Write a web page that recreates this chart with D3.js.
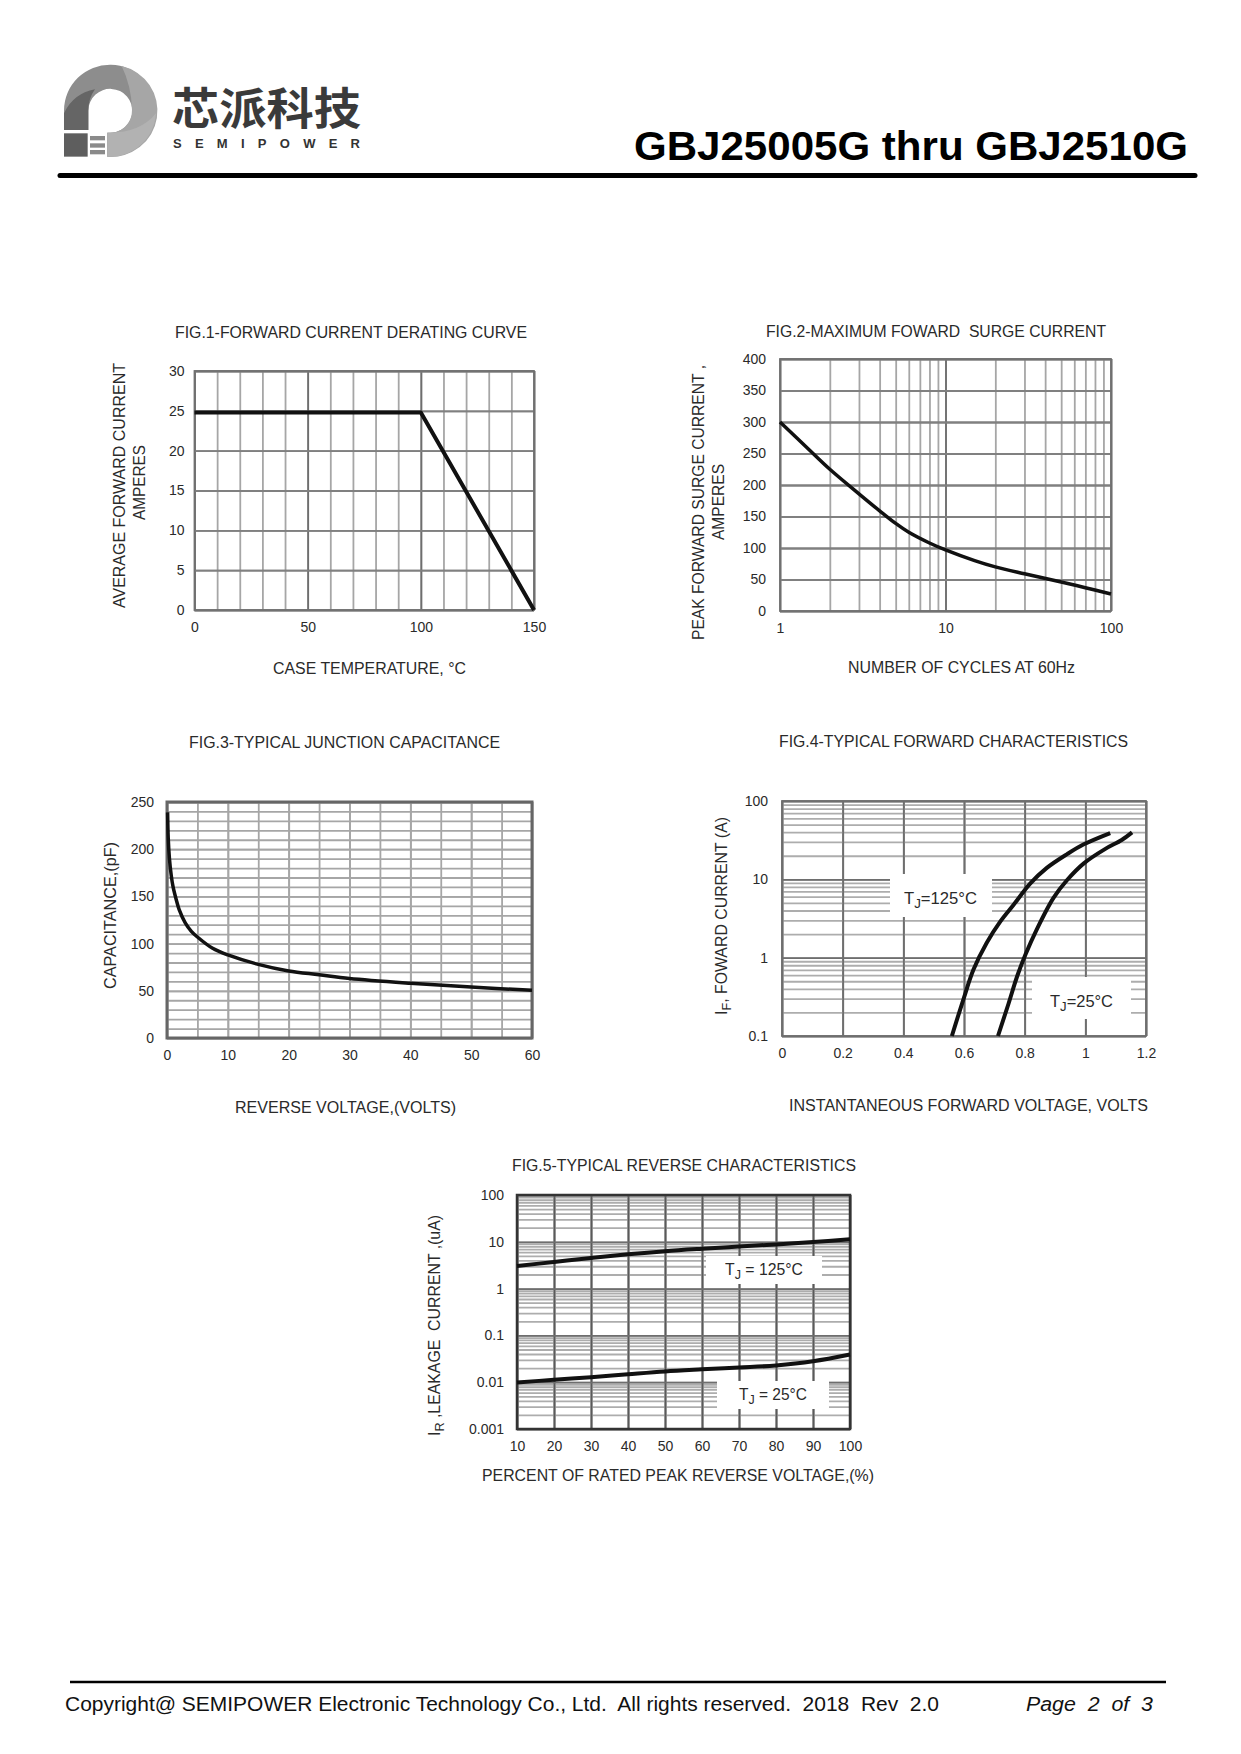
<!DOCTYPE html>
<html>
<head>
<meta charset="utf-8">
<title>GBJ25005G thru GBJ2510G</title>
<script src="https://cdnjs.cloudflare.com/ajax/libs/d3/7.8.5/d3.min.js"></script>
<style>
  html, body { margin: 0; padding: 0; background: #fff; }
  svg { display: block; }
  text { font-family: "Liberation Sans", Arial, sans-serif; fill: #2a2a2a; }
</style>
</head>
<body>
<svg id="page" width="1241" height="1754"></svg>
<script>
// Fig.1 derating curve
const fig1Temp = [0, 100, 150];
const fig1Current = [24.8, 24.8, 0];
const fig1XTicks = [0, 10, 20, 30, 40, 50, 60, 70, 80, 90, 100, 110, 120, 130, 140, 150];
const fig1XLabels = [0, 50, 100, 150];
const fig1YTicks = [0, 5, 10, 15, 20, 25, 30];

// Fig.2 surge current
const fig2Cycles = [1, 1.5, 2, 3, 4, 5, 6, 8, 10, 15, 20, 30, 50, 70, 100];
const fig2Surge = [300, 256, 225, 186, 159, 139, 125, 108, 97, 80, 70, 59, 46, 37, 27];
const fig2XLabels = [1, 10, 100];
const fig2YTicks = [0, 50, 100, 150, 200, 250, 300, 350, 400];

// Fig.3 junction capacitance
const fig3Volts = [0.1, 0.2, 0.4, 0.7, 1, 1.5, 2, 3, 4, 5, 7.5, 10, 15, 20, 25, 30, 40, 50, 60];
const fig3Cap = [239, 212, 190, 172, 160, 147, 136, 122, 113, 107, 95, 88, 78, 71, 67, 63, 58, 54, 50.5];
const fig3XTicks = [0, 5, 10, 15, 20, 25, 30, 35, 40, 45, 50, 55, 60];
const fig3XLabels = [0, 10, 20, 30, 40, 50, 60];
const fig3YTicks = [0, 10, 20, 30, 40, 50, 60, 70, 80, 90, 100, 110, 120, 130, 140, 150, 160, 170, 180, 190, 200, 210, 220, 230, 240, 250];
const fig3YLabels = [0, 50, 100, 150, 200, 250];

// Fig.4 forward characteristics
const fig4Volts125 = [0.56, 0.6, 0.631, 0.675, 0.72, 0.763, 0.818, 0.873, 0.94, 0.995, 1.082];
const fig4Amps125 = [0.1, 0.31, 0.7, 1.55, 2.9, 4.7, 8.8, 14, 21, 28, 39];
const fig4Volts25 = [0.712, 0.747, 0.775, 0.802, 0.84, 0.895, 0.94, 0.995, 1.066, 1.12, 1.154];
const fig4Amps25 = [0.1, 0.26, 0.575, 1.08, 2.3, 5.8, 9.8, 16, 24.5, 31.8, 39.8];
const fig4XTicks = [0, 0.2, 0.4, 0.6, 0.8, 1, 1.2];
const fig4YLabels = [0.1, 1, 10, 100];

// Fig.5 reverse characteristics
const fig5Percent = [10, 20, 30, 40, 50, 60, 70, 80, 90, 100];
const fig5Leak125 = [3.04, 3.7, 4.5, 5.4, 6.3, 7.1, 7.9, 8.8, 9.9, 11.3];
const fig5Leak25 = [0.0098, 0.0113, 0.0128, 0.0148, 0.017, 0.0188, 0.0206, 0.0228, 0.028, 0.039];
const fig5YLabels = [0.001, 0.01, 0.1, 1, 10, 100];

const page = d3.select('#page');

/* Text squeezed to the width it has on the sheet */
function label(parent, text, x, y, width, size, rotated) {
    let t = parent.append('text')
        .attr('font-size', size)
        .attr('textLength', width)
        .attr('lengthAdjust', 'spacingAndGlyphs')
        .text(text);
    if (rotated) {
        t.attr('transform', 'translate(' + x + ',' + y + ') rotate(-90)');
    } else {
        t.attr('x', x).attr('y', y);
    }
    return t;
}

/* Text with one subscript letter, e.g. TJ or IF */
function subLabel(parent, before, sub, after, x, y, width, size, rotated) {
    let t = label(parent, '', x, y, width, size, rotated);
    t.append('tspan').text(before);
    t.append('tspan').attr('font-size', size * 0.8).attr('dy', 4).text(sub);
    t.append('tspan').attr('dy', -4).text(after);
    return t;
}

/* Frame, grid and tick labels of one figure */
function setFigure(o) {
    let g = page.append('g');
    let {x, y} = o;
    let [left, right] = x.range();
    let [bottom, top] = y.range();

    function grid(axis, cls, color, width) {
        let a = g.append('g').attr('class', cls).call(axis);
        a.select('.domain').remove();
        a.selectAll('line').attr('stroke', color).attr('stroke-width', width);
        a.selectAll('text')
            .attr('font-size', 14)
            .style('font-family', '"Liberation Sans", Arial, sans-serif')
            .style('fill', '#2a2a2a');
        return a;
    }

    let none = () => '';
    grid(d3.axisBottom(x).tickValues(o.xMinor).tickSize(top - bottom).tickFormat(none),
        'x-minor', o.xMinorColor, o.gridWidth).attr('transform', 'translate(0,' + bottom + ')');
    grid(d3.axisLeft(y).tickValues(o.yMinor).tickSize(left - right).tickFormat(none),
        'y-minor', o.yMinorColor, o.gridWidth).attr('transform', 'translate(' + left + ',0)');
    grid(d3.axisBottom(x).tickValues(o.xMajor).tickSize(top - bottom).tickPadding(12).tickFormat(d => String(d)),
        'x-major', o.xMajorColor, o.gridWidth).attr('transform', 'translate(0,' + bottom + ')');
    grid(d3.axisLeft(y).tickValues(o.yMajor).tickSize(left - right).tickPadding(o.yPad).tickFormat(d => String(d)),
        'y-major', o.yMajorColor, o.gridWidth).attr('transform', 'translate(' + left + ',0)');

    // axisBottom with a negative size flips label side, so put the labels back below
    g.selectAll('.x-major text').attr('y', 12).attr('dy', '0.71em');
    g.selectAll('.y-major text').attr('x', -o.yPad);

    g.append('g').attr('class', 'masks');
    g.append('rect')
        .attr('x', left).attr('y', top)
        .attr('width', right - left).attr('height', bottom - top)
        .attr('fill', 'none')
        .attr('stroke', o.frameColor)
        .attr('stroke-width', o.frameWidth);
    return g;
}

/* White patch behind a curve label */
function mask(g, x0, y0, x1, y1) {
    g.select('.masks').append('rect')
        .attr('x', x0).attr('y', y0)
        .attr('width', x1 - x0).attr('height', y1 - y0)
        .attr('fill', '#fff');
}

function curve(g, xs, ys, x, y, factory, width) {
    let line = d3.line()
        .x(d => x(d[0]))
        .y(d => y(d[1]))
        .curve(factory);
    g.append('path')
        .datum(d3.zip(xs, ys))
        .attr('d', line)
        .attr('fill', 'none')
        .attr('stroke', '#111')
        .attr('stroke-width', width)
        .attr('stroke-linejoin', 'round');
}

const smooth = d3.curveCatmullRom.alpha(0.5);

/* Header and footer */
function getHeader() {
    let logo = page.append('g').attr('transform', 'translate(50,50) scale(0.3333)');
    logo.append('path')
        .attr('d', 'M42,240 L42,182 A138,138 0 1 1 172,320 L172,248 A66,66 0 1 0 115,182 L115,240 Z')
        .attr('fill', '#8d8d8d');
    logo.append('path')
        .attr('d', 'M215,48 A138,138 0 0 1 172,320 L172,248 A66,66 0 0 0 246,180 Q245,110 215,48 Z')
        .attr('fill', '#a6a6a6');
    logo.append('path')
        .attr('d', 'M318,190 A138,138 0 0 1 172,320 L172,248 Q270,250 318,190 Z')
        .attr('fill', '#b2b2b2');
    logo.append('path')
        .attr('d', 'M42,240 L42,190 Q70,130 135,118 Q115,145 115,182 L115,240 Z')
        .attr('fill', '#656565');
    logo.append('rect').attr('x', 42).attr('y', 250).attr('width', 71).attr('height', 70).attr('fill', '#5e5e5e');
    [258, 280, 300].forEach(top => {
        logo.append('rect').attr('x', 120).attr('y', top).attr('width', 45).attr('height', 13).attr('fill', '#8a8a8a');
    });

    label(page, '芯派科技', 172, 125, 189, 44)
        .style('font-family', '"Noto Sans CJK SC"').attr('font-weight', 700).style('fill', '#3a3a3a');
    label(page, 'SEMIPOWER', 173, 148, 187, 13)
        .attr('font-weight', 700).attr('lengthAdjust', 'spacing').style('fill', '#333');

    label(page, 'GBJ25005G thru GBJ2510G', 634, 160, 554, 41)
        .attr('font-weight', 700).style('fill', '#000');
    page.append('line')
        .attr('x1', 60).attr('x2', 1195).attr('y1', 175.5).attr('y2', 175.5)
        .attr('stroke', '#000').attr('stroke-width', 5).attr('stroke-linecap', 'round');

    page.append('line')
        .attr('x1', 70).attr('x2', 1166).attr('y1', 1682).attr('y2', 1682)
        .attr('stroke', '#000').attr('stroke-width', 2.5);
    label(page, 'Copyright@ SEMIPOWER Electronic Technology Co., Ltd.  All rights reserved.  2018  Rev  2.0', 65, 1711, 874, 20)
        .attr('xml:space', 'preserve').style('fill', '#111');
    label(page, 'Page  2  of  3', 1026, 1711, 127, 20)
        .attr('xml:space', 'preserve').attr('font-style', 'italic').style('fill', '#111');
}

/* Fig.1 */
function getFirstChart() {
    let x = d3.scaleLinear().domain([0, 150]).range([194.5, 534]);
    let y = d3.scaleLinear().domain([0, 30]).range([610, 371]);
    let g = setFigure({
        x, y,
        xMinor: fig1XTicks, yMinor: fig1YTicks, xMajor: fig1XLabels, yMajor: fig1YTicks,
        xMinorColor: '#a6a6a6', yMinorColor: '#808080', xMajorColor: '#6e6e6e', yMajorColor: '#808080',
        gridWidth: 1.8, frameColor: '#707070', frameWidth: 1.8, yPad: 10
    });
    curve(g, fig1Temp, fig1Current, x, y, d3.curveLinear, 4);
    label(g, 'FIG.1-FORWARD CURRENT DERATING CURVE', 175, 338, 352, 16);
    label(g, 'CASE TEMPERATURE, °C', 273, 674, 193, 16);
    label(g, 'AVERAGE FORWARD CURRENT', 125, 608, 245, 16, true);
    label(g, 'AMPERES', 145, 520, 75, 16, true);
}

/* Fig.2 */
function getSecondChart() {
    let x = d3.scaleLog().domain([1, 100]).range([780, 1111]);
    let y = d3.scaleLinear().domain([0, 400]).range([611, 359]);
    let g = setFigure({
        x, y,
        xMinor: x.ticks(), yMinor: fig2YTicks, xMajor: fig2XLabels, yMajor: fig2YTicks,
        xMinorColor: '#a6a6a6', yMinorColor: '#808080', xMajorColor: '#6e6e6e', yMajorColor: '#808080',
        gridWidth: 1.8, frameColor: '#707070', frameWidth: 1.8, yPad: 14
    });
    curve(g, fig2Cycles, fig2Surge, x, y, smooth, 3.5);
    label(g, 'FIG.2-MAXIMUM FOWARD  SURGE CURRENT', 766, 337, 340, 16).attr('xml:space', 'preserve');
    label(g, 'NUMBER OF CYCLES AT 60Hz', 848, 673, 227, 16);
    label(g, 'PEAK FORWARD SURGE CURRENT ,', 704, 640, 275, 16, true);
    label(g, 'AMPERES', 724, 540, 76, 16, true);
}

/* Fig.3 */
function getThirdChart() {
    let x = d3.scaleLinear().domain([0, 60]).range([167, 532]);
    let y = d3.scaleLinear().domain([0, 250]).range([1038, 802]);
    let g = setFigure({
        x, y,
        xMinor: fig3XTicks, yMinor: fig3YTicks, xMajor: fig3XLabels, yMajor: fig3YLabels,
        xMinorColor: '#a6a6a6', yMinorColor: '#a6a6a6', xMajorColor: '#a6a6a6', yMajorColor: '#a6a6a6',
        gridWidth: 1.8, frameColor: '#666', frameWidth: 3, yPad: 13
    });
    curve(g, fig3Volts, fig3Cap, x, y, smooth, 3.5);
    label(g, 'FIG.3-TYPICAL JUNCTION CAPACITANCE', 189, 748, 311, 16);
    label(g, 'REVERSE VOLTAGE,(VOLTS)', 235, 1113, 221, 16);
    label(g, 'CAPACITANCE,(pF)', 116, 989, 147, 16, true);
}

/* Fig.4 */
function getFourthChart() {
    let x = d3.scaleLinear().domain([0, 1.2]).range([782, 1146]);
    let y = d3.scaleLog().domain([0.1, 100]).range([1036, 801]);
    let g = setFigure({
        x, y,
        xMinor: fig4XTicks, yMinor: y.ticks(), xMajor: fig4XTicks, yMajor: fig4YLabels,
        xMinorColor: '#6e6e6e', yMinorColor: '#adadad', xMajorColor: '#6e6e6e', yMajorColor: '#6e6e6e',
        gridWidth: 1.8, frameColor: '#6e6e6e', frameWidth: 1.8, yPad: 14
    });
    mask(g, 890, 874, 992, 917);
    mask(g, 1032, 977, 1131, 1019);
    curve(g, fig4Volts125, fig4Amps125, x, y, smooth, 4);
    curve(g, fig4Volts25, fig4Amps25, x, y, smooth, 4);
    subLabel(g, 'T', 'J', '=125°C', 904, 904, 73, 16);
    subLabel(g, 'T', 'J', '=25°C', 1050, 1007, 63, 16);
    label(g, 'FIG.4-TYPICAL FORWARD CHARACTERISTICS', 779, 747, 349, 16);
    label(g, 'INSTANTANEOUS FORWARD VOLTAGE, VOLTS', 789, 1111, 359, 16);
    subLabel(g, 'I', 'F', ', FOWARD CURRENT (A)', 727, 1015, 198, 16, true);
}

/* Fig.5 */
function getFifthChart() {
    let x = d3.scaleLinear().domain([10, 100]).range([517, 850]);
    let y = d3.scaleLog().domain([0.001, 100]).range([1429, 1195]);
    let g = setFigure({
        x, y,
        xMinor: fig5Percent, yMinor: y.ticks(), xMajor: fig5Percent, yMajor: fig5YLabels,
        xMinorColor: '#5a5a5a', yMinorColor: '#adadad', xMajorColor: '#5a5a5a', yMajorColor: '#6e6e6e',
        gridWidth: 1.8, frameColor: '#333', frameWidth: 2.5, yPad: 13
    });
    mask(g, 706, 1256, 822, 1284);
    mask(g, 717, 1381, 829, 1409);
    curve(g, fig5Percent, fig5Leak125, x, y, smooth, 4);
    curve(g, fig5Percent, fig5Leak25, x, y, smooth, 4);
    subLabel(g, 'T', 'J', ' = 125°C', 725, 1275, 78, 16).attr('xml:space', 'preserve');
    subLabel(g, 'T', 'J', ' = 25°C', 739, 1400, 68, 16).attr('xml:space', 'preserve');
    label(g, 'FIG.5-TYPICAL REVERSE CHARACTERISTICS', 512, 1171, 344, 16);
    label(g, 'PERCENT OF RATED PEAK REVERSE VOLTAGE,(%)', 482, 1481, 392, 16);
    subLabel(g, 'I', 'R', ' ,LEAKAGE  CURRENT ,(uA)', 440, 1436, 221, 16, true).attr('xml:space', 'preserve');
}

getHeader();
getFirstChart();
getSecondChart();
getThirdChart();
getFourthChart();
getFifthChart();
</script>
</body>
</html>
